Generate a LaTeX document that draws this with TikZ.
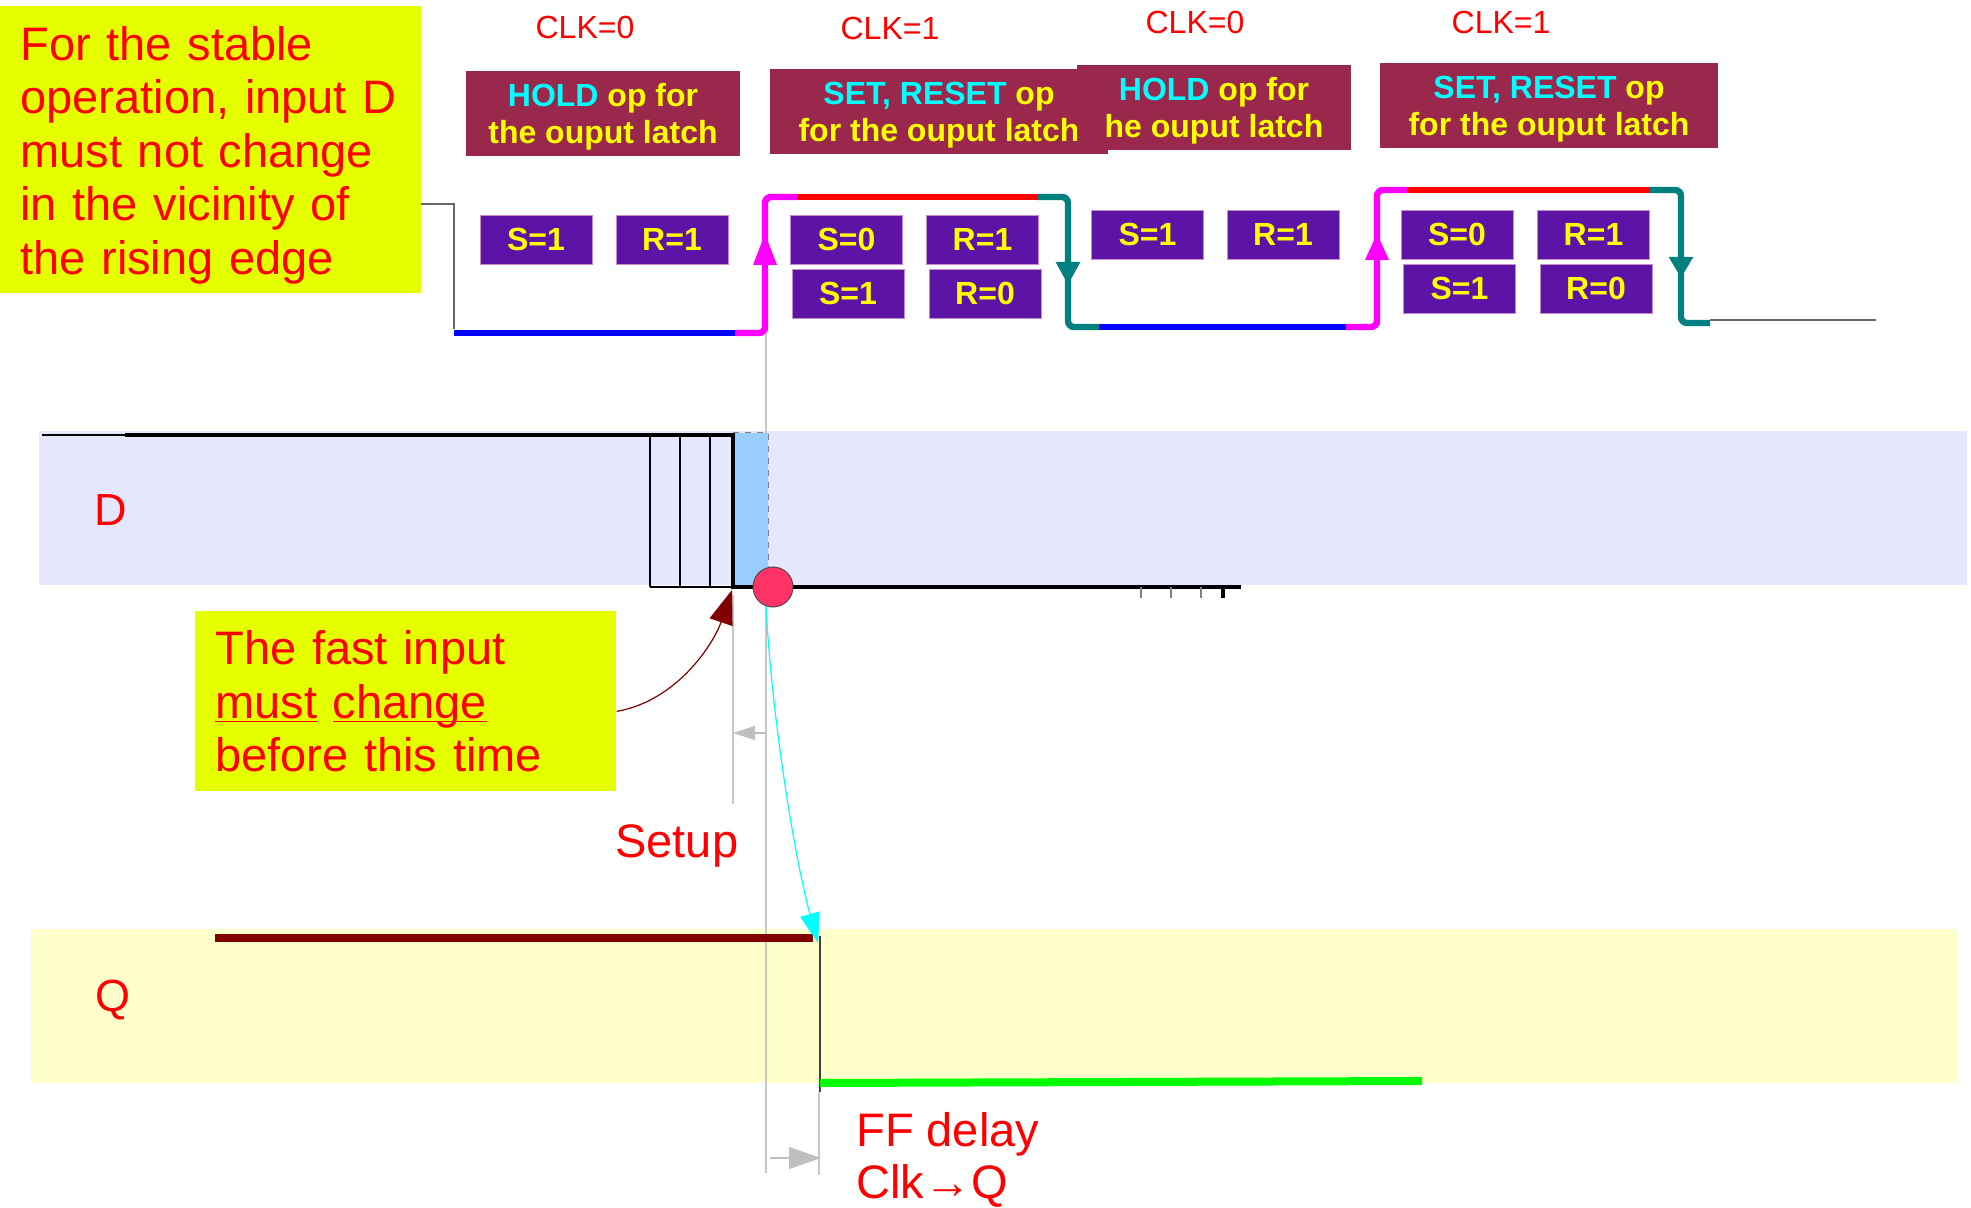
\documentclass[tikz,border=0pt]{standalone}
\usepackage{fontspec}
\setmainfont{Liberation Sans}
\usetikzlibrary{arrows.meta}
\definecolor{notey}{HTML}{E6FF00}
\definecolor{opred}{HTML}{99284C}
\definecolor{srpurple}{HTML}{5C13A6}
\definecolor{dband}{HTML}{E6E6FC}
\definecolor{qband}{HTML}{FFFFCC}
\definecolor{setupblue}{HTML}{99CCFF}
\definecolor{dotred}{HTML}{FF3366}
\definecolor{darkred}{HTML}{800000}
\definecolor{hicyan}{HTML}{00FFFF}
\definecolor{himag}{HTML}{FF00FF}
\definecolor{hiteal}{HTML}{008080}
\definecolor{hiblue}{HTML}{0000FF}
\definecolor{hired}{HTML}{FF0000}
\definecolor{higreen}{HTML}{00FF00}
\definecolor{hiyellow}{HTML}{FFFF00}
\newcommand{\ulword}[1]{\underline{\smash{#1}}}
\begin{document}
\begin{tikzpicture}[x=0.5pt, y=-0.5pt,
  note/.style={fill=notey, text=hired, align=left, anchor=north west, inner xsep=10pt, inner ysep=0pt, text width=190.5pt, font=\fontsize{23.5}{26.75}\selectfont},
  bigtxt/.style={text=hired, inner sep=0pt, anchor=base west, font=\fontsize{23.5}{26.75}\selectfont},
  sig/.style={text=hired, font=\fontsize{22.5}{27}\selectfont},
  clklbl/.style={text=hired, font=\fontsize{16}{18}\selectfont},
  opbox/.style={fill=opred, text=hiyellow, align=center, inner sep=0pt, minimum height=42.5pt, font=\bfseries\fontsize{16}{18.5}\selectfont},
  srbox/.style={fill=srpurple, draw=violet!45, line width=0.4pt, text=hiyellow, inner sep=0pt, minimum width=56pt, minimum height=24.5pt, font=\bfseries\fontsize{16}{18}\selectfont},
  wave/.style={line width=3.2pt, rounded corners=3pt},
  guide/.style={draw=black!22, line width=0.6pt}]
\useasboundingbox (0,0) rectangle (1971,1208);

% signal bands
\fill[dband] (39,431) rectangle (1967,585);
\fill[qband] (31,929) rectangle (1958,1083);
\node[sig] (dlbl) at (111,510) {D};
\node[sig] (qlbl) at (113,1000) {Q};

% notes
\node[note, minimum height=143.5pt] (stable) at (0,6) {\rule{0pt}{22pt}For the stable\\operation, input D\\must not change\\in the vicinity of\\the rising edge};
\node[note, minimum height=90pt] (fast) at (195,611) {The fast input\\\ulword{must} \ulword{change}\\before this time};

% clock phases
\node[clklbl] (clk0a) at (585,27) {CLK=0};
\node[clklbl] (clk1a) at (890,28) {CLK=1};
\node[clklbl] (clk0b) at (1195,22) {CLK=0};
\node[clklbl] (clk1b) at (1501,22) {CLK=1};

\node[opbox, minimum width=137pt] (holda) at (603,113.5) {\rule{0pt}{14.5pt}\textcolor{hicyan}{HOLD} op for\\the ouput latch};
\node[opbox, minimum width=169pt] (seta) at (939,111.5) {\rule{0pt}{14.5pt}\textcolor{hicyan}{SET, RESET} op\\for the ouput latch};
\node[opbox, minimum width=137pt] (holdb) at (1214,108) {\rule{0pt}{14.5pt}\textcolor{hicyan}{HOLD} op for\\he ouput latch};
\node[opbox, minimum width=169pt] (setb) at (1549,106) {\rule{0pt}{14.5pt}\textcolor{hicyan}{SET, RESET} op\\for the ouput latch};

\node[srbox] (sa) at (536,239.5) {S=1};
\node[srbox] (ra) at (672,239.5) {R=1};
\node[srbox] (sb) at (846.5,239.5) {S=0};
\node[srbox] (rb) at (982.5,239.5) {R=1};
\node[srbox] (sc) at (848,293.5) {S=1};
\node[srbox] (rc) at (985,293.5) {R=0};
\node[srbox] (sd) at (1147.5,234.5) {S=1};
\node[srbox] (rd) at (1283,234.5) {R=1};
\node[srbox] (se) at (1457,234.5) {S=0};
\node[srbox] (re) at (1593.5,234.5) {R=1};
\node[srbox] (sf) at (1459.5,288.5) {S=1};
\node[srbox] (rf) at (1596,288.5) {R=0};

% clock waveform
\draw[black!60, line width=0.7pt] (421,204) -- (454,204) -- (454,329);
\draw[wave, hiblue] (454,333) -- (735,333);
\draw[wave, himag] (735,333) -- (765,333) -- (765,197) -- (797,197);
\draw[wave, himag, -{Triangle[length=16pt,width=11pt]}] (765,300) -- (765,233);
\draw[wave, hired] (797,197) -- (1038,197);
\draw[wave, hiteal] (1038,197) -- (1068,197) -- (1068,327) -- (1099,327);
\draw[wave, hiteal, -{Triangle[length=11.5pt,width=11.5pt]}] (1068,230) -- (1068,285);
\draw[wave, hiblue] (1099,327) -- (1346,327);
\draw[wave, himag] (1346,327) -- (1377,327) -- (1377,190) -- (1407,190);
\draw[wave, himag, -{Triangle[length=13.5pt,width=11pt]}] (1377,300) -- (1377,233);
\draw[wave, hired] (1407,190) -- (1650,190);
\draw[wave, hiteal] (1650,190) -- (1681,190) -- (1681,323) -- (1710,323);
\draw[wave, hiteal, -{Triangle[length=10.5pt,width=11.5pt]}] (1681,230) -- (1681,278);
\draw[black!60, line width=0.7pt] (1710,320) -- (1876,320);

% timing guides
\draw[guide] (766,333) -- (766,1173);
\draw[guide] (733,595) -- (733,804);
\draw[guide] (819,1092) -- (819,1175);

% D waveform
\draw[gray, dashed, line width=0.5pt, fill=setupblue] (733,433) rectangle (768,587);
\draw[line width=0.6pt] (650,435) -- (650,587) (680,435) -- (680,587) (710,435) -- (710,587) (650,587) -- (733,587);
\draw[line width=0.6pt] (42,435) -- (125,435);
\draw[line width=2pt] (125,435) -- (733,435) -- (733,587) -- (1241,587);
\draw[black!50, line width=0.6pt] (1141,587) -- (1141,598) (1171,587) -- (1171,598) (1201,587) -- (1201,598);
\draw[line width=2pt] (1223,587) -- (1223,598);
\node[circle, draw=black!70, fill=dotred, line width=0.5pt, minimum size=20pt, inner sep=0pt] (clkpt) at (773,587) {};

% Q waveform
\draw[darkred, line width=4pt] (215,938) -- (813,938);
\draw[black!75, line width=0.6pt] (820,936) -- (820,1092);
\draw[higreen, line width=4pt] (820,1083) -- (1422,1081);

% arrows
\coordinate (setupT) at (732,590);
\draw[darkred, line width=0.6pt, -{Triangle[length=17pt,width=12pt]}] ([yshift=-5pt]fast.east) .. controls (680,700) and (715,640) .. (setupT);
\coordinate (qchg) at (818,943);
\draw[hicyan, line width=0.6pt, -{Triangle[length=15pt,width=10pt]}] (clkpt.250) .. controls (772,720) and (795,860) .. (qchg);
\coordinate (setupR) at (766,733);
\coordinate (setupL) at (733,733);
\draw[black!25, line width=0.6pt, -{Triangle[length=11pt,width=7pt]}] (setupR) -- (setupL);
\coordinate (ffL) at (770,1158);
\coordinate (ffR) at (821,1158);
\draw[black!25, line width=0.6pt, -{Triangle[length=16pt,width=11pt]}] (ffL) -- (ffR);

\node[bigtxt] (setup) at (615,857) {Setup};
\node[bigtxt] (ffdelay) at (856,1146) {FF delay};
\node[bigtxt] (clkq) at (856,1198) {Clk→Q};
\end{tikzpicture}
\end{document}
